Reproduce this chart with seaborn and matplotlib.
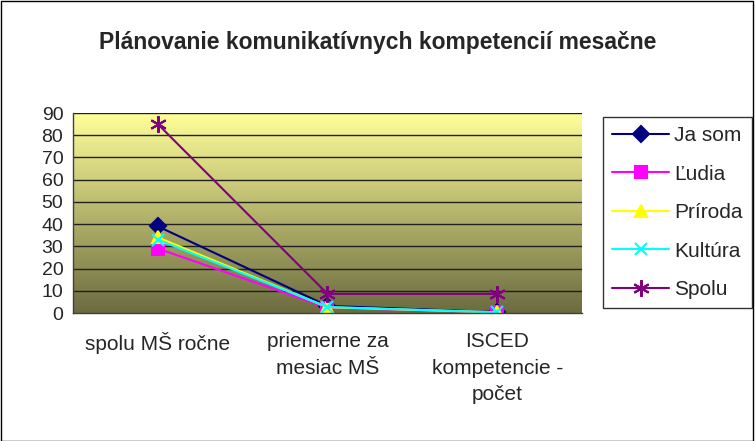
import numpy as np
import pandas as pd
import seaborn as sns
import matplotlib.pyplot as plt
from matplotlib.colors import LinearSegmentedColormap
from matplotlib.lines import Line2D
from matplotlib.patches import Rectangle

# data
categories = ["spolu MŠ ročne", "priemerne za\nmesiac MŠ", "ISCED\nkompetencie -\npočet"]
ja_som = [39, 3.2, 0.4]
ludia = [29, 2.4, 0.3]
priroda = [34, 2.6, 0.3]
kultura = [33, 2.7, 0.3]
spolu = [85, 8.6, 8.6]

series_names = ["Ja som", "Ľudia", "Príroda", "Kultúra", "Spolu"]
series_vals = [ja_som, ludia, priroda, kultura, spolu]
colors = ["#000080", "#FF00FF", "#FFFF00", "#00FFFF", "#800080"]
markers = ["D", "s", "^", "x", (6, 2, 0)]
msizes = [8, 8, 9, 9, 12]

rows = []
for name, vals in zip(series_names, series_vals):
    for i, v in enumerate(vals):
        rows.append({"serie": name, "x": i, "y": v})
df = pd.DataFrame(rows)

sns.set_theme(style="white")
plt.rcParams['font.family'] = ['Liberation Sans', 'DejaVu Sans']

fig = plt.figure(figsize=(7.55, 4.41), dpi=100)
ax = fig.add_axes([73 / 755, 1 - 313 / 441, (582 - 73) / 755, (313 - 113) / 441])

# gradient background
cmap = LinearSegmentedColormap.from_list("bg", ["#FFFF99", "#6B6B40"])
grad = np.linspace(0, 1, 256).reshape(-1, 1)
ax.imshow(grad, aspect="auto", cmap=cmap, extent=[0, 1, 0, 1],
          transform=ax.transAxes, zorder=0)

for y in range(10, 100, 10):
    ax.axhline(y, color="#202020", lw=1, zorder=1)

for name, c, m, ms in zip(series_names, colors, markers, msizes):
    sub = df[df["serie"] == name]
    sns.lineplot(data=sub, x="x", y="y", ax=ax, color=c, marker=m,
                 markersize=ms, markeredgecolor=c, markeredgewidth=1.5,
                 lw=1.5, zorder=3, legend=False)

ax.set_xlim(-0.5, 2.5)
ax.set_ylim(0, 90)
ax.set_yticks(range(0, 100, 10))
ax.set_xticks([0, 1, 2])
ax.set_xticklabels(categories, fontsize=15, linespacing=1.5)
ax.set_xticks([-0.5, 0.5, 1.5, 2.5], minor=True)
ax.tick_params(axis="x", which="major", length=0, pad=14)
ax.tick_params(axis="x", which="minor", length=5, color="#404040", width=1)
ax.tick_params(axis="y", length=5, color="#404040", width=1, labelsize=14, pad=2)
ax.set_xlabel("")
ax.set_ylabel("")
for s in ["top", "right"]:
    ax.spines[s].set_visible(False)
for s in ["left", "bottom"]:
    ax.spines[s].set_color("#404040")
    ax.spines[s].set_linewidth(1)
    ax.spines[s].set_zorder(4)

fig.text(0.5, 1 - 42 / 441, "Plánovanie komunikatívnych kompetencií mesačne",
         ha="center", va="center", fontsize=16.5, fontweight="bold")

handles = [Line2D([0], [0], color=c, marker=m, markersize=ms, markeredgecolor=c,
                  markeredgewidth=1.5, lw=1.5)
           for c, m, ms in zip(colors, markers, msizes)]
leg = fig.legend(handles, series_names, loc="upper left",
                 bbox_to_anchor=(603 / 755, 1 - 117 / 441), fontsize=15,
                 frameon=True, fancybox=False, shadow=False, labelspacing=0.93,
                 handlelength=2.7, borderpad=0.45, handletextpad=0.25,
                 borderaxespad=0)
leg.get_frame().set_edgecolor("black")
leg.get_frame().set_linewidth(1)

fig.patches.append(Rectangle((0.001, 0.001), 0.997, 0.997, transform=fig.transFigure,
                             fill=False, edgecolor="black", lw=1))

fig.savefig("out.png", dpi=100)
